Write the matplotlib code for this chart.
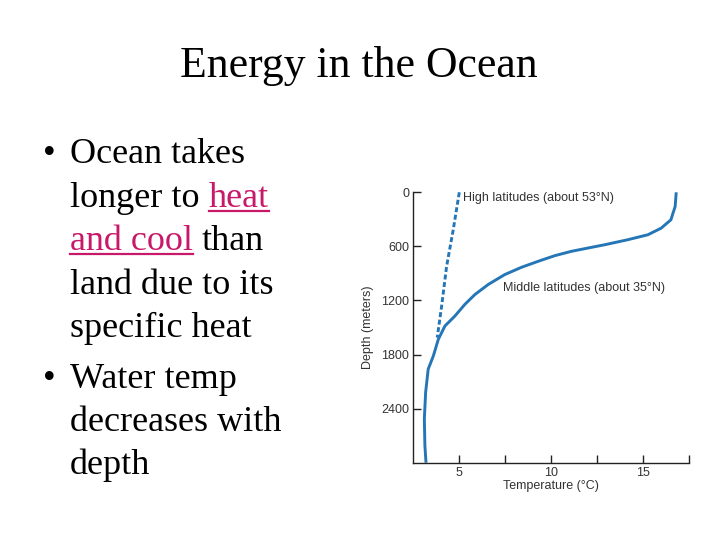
import matplotlib
matplotlib.use("Agg")
import matplotlib.pyplot as plt
from matplotlib.lines import Line2D

# ---- data ----
mid_temp = [16.79, 16.73, 16.5, 15.97, 15.25, 14.16, 12.9, 12.0, 11.09, 10.19, 9.28, 8.38,
            7.47, 6.57, 5.85, 5.30, 4.76, 4.22, 3.86, 3.59, 3.31, 3.17, 3.10, 3.13, 3.19]
mid_depth = [0, 158, 305, 398, 471, 526, 582, 618, 655, 703, 766, 832,
             913, 1023, 1134, 1244, 1373, 1483, 1631, 1815, 1962, 2220, 2514, 2809, 3000]
high_temp = [5.0, 4.67, 4.31, 4.04, 3.80]
high_depth = [0, 416, 821, 1263, 1612]
x_major = [5, 10, 15]
x_minor = [7.5, 12.5, 17.5]
y_ticks = [0, 600, 1200, 1800, 2400]

W, H = 720, 540
fig = plt.figure(figsize=(7.2, 5.4), dpi=100)
fig.patch.set_facecolor("white")

def P(x, y):
    return x / W, 1 - y / H

serif = ["Liberation Serif", "DejaVu Serif"]
sans = ["Liberation Sans", "DejaVu Sans"]
pink = "#C8186A"
blue = "#2576B6"
body_fs = 26
lab_fs = 9

fig.text(*P(359, 77), "Energy in the Ocean", family=serif, fontsize=31.5,
         ha="center", va="baseline")

renderer = fig.canvas.get_renderer()

def space_w():
    t = fig.text(0, 0, "a a", family=serif, fontsize=body_fs)
    t2 = fig.text(0, 0, "aa", family=serif, fontsize=body_fs)
    w = t.get_window_extent(renderer=renderer).width - t2.get_window_extent(renderer=renderer).width
    t.remove(); t2.remove()
    return w

sw = space_w()
x0 = 70
lines = [
    (163, [("Ocean takes", "black", False)]),
    (207, [("longer to", "black", False), ("heat", pink, True)]),
    (250, [("and cool", pink, True), ("than", "black", False)]),
    (294, [("land due to its", "black", False)]),
    (337, [("specific heat", "black", False)]),
    (388, [("Water temp", "black", False)]),
    (431, [("decreases with", "black", False)]),
    (474, [("depth", "black", False)]),
]
for y, parts in lines:
    cx = x0
    for txt, col, ul in parts:
        t = fig.text(*P(cx, y), txt, family=serif, fontsize=body_fs, color=col,
                     ha="left", va="baseline")
        bb = t.get_window_extent(renderer=renderer)
        if ul:
            uy = 1 - (y + 4) / H
            fig.add_artist(Line2D([bb.x0 / W, bb.x1 / W], [uy, uy],
                                  transform=fig.transFigure, color=col, lw=1.6))
        cx = bb.x1 + sw
for by in [163, 388]:
    fig.text(*P(49, by), "\u2022", family=serif, fontsize=body_fs,
             ha="center", va="baseline")

# ---- chart ----
ax = fig.add_axes([413.3 / W, 1 - 462.7 / H, (689.3 - 413.3) / W, (462.7 - 192.3) / H])
ax.plot(mid_temp, mid_depth, color=blue, lw=2.1, solid_capstyle="butt")
ax.plot(high_temp, high_depth, color=blue, lw=2.1, ls=(0, (1.7, 0.9)))
ax.set_xlim(2.5, 17.5)
ax.set_ylim(3000, 0)
for s in ["top", "right"]:
    ax.spines[s].set_visible(False)
for s in ["left", "bottom"]:
    ax.spines[s].set_linewidth(1.0)
    ax.spines[s].set_color("#222222")
ax.set_xticks(x_major)
ax.set_xticks(x_minor, minor=True)
ax.set_yticks(y_ticks)
ax.tick_params(axis="both", which="both", direction="in", length=6, width=1.0,
               color="#222222", labelsize=lab_fs, labelcolor="#333333")
ax.tick_params(axis="x", pad=3)
ax.tick_params(axis="y", pad=3)
for lab in ax.get_xticklabels() + ax.get_yticklabels():
    lab.set_family(sans)
ax.set_xlabel("Temperature (\u00b0C)", family=sans, fontsize=lab_fs, color="#333333", labelpad=1)
ax.set_ylabel("Depth (meters)", family=sans, fontsize=lab_fs, color="#333333", labelpad=5)
ax.text(5.2, 66, "High latitudes (about 53\u00b0N)", family=sans, fontsize=lab_fs,
        color="#333333", ha="left", va="center")
ax.text(7.38, 1060, "Middle latitudes (about 35\u00b0N)", family=sans, fontsize=lab_fs,
        color="#333333", ha="left", va="center")

fig.savefig("out.png", dpi=100, facecolor="white")
